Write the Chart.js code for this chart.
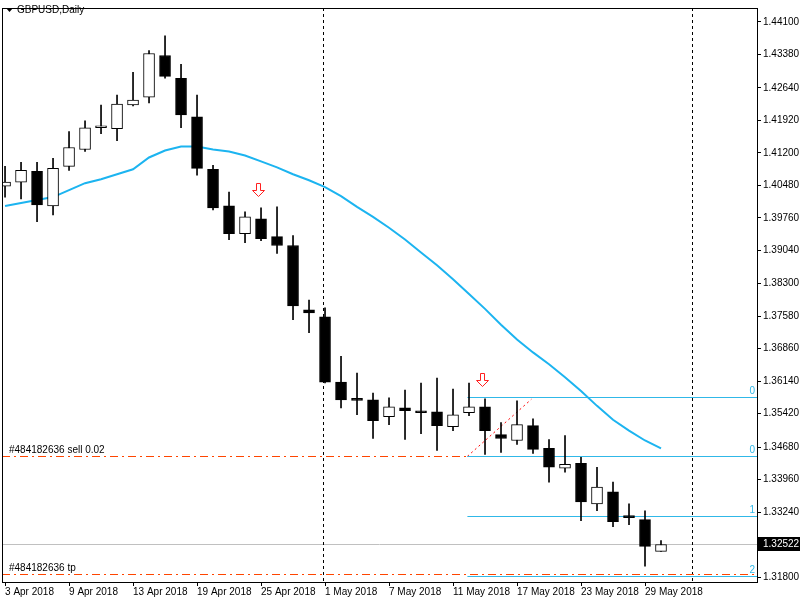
<!DOCTYPE html>
<html><head><meta charset="utf-8">
<script src="https://cdn.jsdelivr.net/npm/chart.js@4/dist/chart.umd.min.js"></script>
<style>html,body{margin:0;padding:0;background:#fff}</style>
</head><body>
<canvas id="c" width="800" height="600"></canvas>
<script>
// Daily GBPUSD candles, index 0 = 3 Apr 2018
const opens  = [1.40461,1.40548,1.40790,1.40022,1.40899,1.41272,1.41754,1.41732,1.42258,1.42434,1.43355,1.42850,1.41995,1.40833,1.40022,1.39408,1.39737,1.39342,1.39145,1.37720,1.37567,1.36119,1.35725,1.35725,1.35352,1.35549,1.35484,1.35462,1.35133,1.35440,1.35571,1.34957,1.34826,1.35155,1.34651,1.34212,1.34322,1.33423,1.33686,1.33160,1.33072,1.32370];
const highs  = [1.40899,1.40987,1.40987,1.41075,1.41667,1.41908,1.42258,1.42478,1.42982,1.43464,1.43793,1.43157,1.42478,1.40921,1.40329,1.39891,1.39978,1.40000,1.39364,1.37939,1.37764,1.36690,1.36317,1.35878,1.35769,1.35944,1.36098,1.36207,1.35966,1.36098,1.35747,1.35221,1.35703,1.35308,1.34848,1.34935,1.34453,1.34234,1.33905,1.33423,1.33269,1.32611];
const lows   = [1.40219,1.40176,1.39671,1.39825,1.40811,1.41228,1.41623,1.41469,1.42237,1.42302,1.42850,1.41754,1.40702,1.39934,1.39277,1.39211,1.39255,1.38970,1.37501,1.37216,1.36100,1.35549,1.35396,1.34870,1.35177,1.34848,1.34979,1.34607,1.35045,1.35374,1.34519,1.34563,1.34738,1.34541,1.33905,1.34124,1.33050,1.33269,1.32918,1.32962,1.32041,1.32370];
const closes = [1.40548,1.40811,1.40044,1.40855,1.41316,1.41754,1.41776,1.42280,1.42368,1.43399,1.42894,1.42039,1.40855,1.39978,1.39408,1.39781,1.39299,1.39145,1.37808,1.37654,1.36119,1.35725,1.35715,1.35264,1.35571,1.35484,1.35440,1.35155,1.35396,1.35571,1.35045,1.34870,1.35177,1.34629,1.34234,1.34300,1.33467,1.33795,1.33028,1.33116,1.32480,1.32522];
const maValues = [1.40022,1.40088,1.40154,1.40219,1.40373,1.40526,1.40614,1.40724,1.40833,1.41096,1.41250,1.41338,1.41338,1.41272,1.41228,1.41140,1.41009,1.40877,1.40724,1.40592,1.40439,1.40241,1.40000,1.39781,1.39540,1.39277,1.38992,1.38707,1.38400,1.38071,1.37742,1.37391,1.37062,1.36777,1.36514,1.36229,1.35922,1.35593,1.35286,1.35045,1.34826,1.34651];
const dateTickIdx = [0,4,8,12,16,20,24,28,32,36,40];
const dateTickLabels = ['3 Apr 2018','9 Apr 2018','13 Apr 2018','19 Apr 2018','25 Apr 2018','1 May 2018','7 May 2018','11 May 2018','17 May 2018','23 May 2018','29 May 2018'];
const priceTicks = [1.44100,1.43380,1.42640,1.41920,1.41200,1.40480,1.39760,1.39040,1.38300,1.37580,1.36860,1.36140,1.35420,1.34680,1.33960,1.33240,1.31800];
const bidPrice = 1.32522;
const fiboLevels = [1.35791,1.34475,1.33160,1.31822];
const fiboLabels = ['0','0','1','2'];
const fiboStart = 28.9;
const sellPrice = 1.34475, tpPrice = 1.31866;
const periodSeps = [19.9,42.94];
const arrows = [[15.8,1.4053],[29.8,1.3632]];
const trendLine = [[28.9,1.34475],[32.9,1.35740]];

const idx = opens.map((_,i)=>i);
const FONT = '"Liberation Sans", Arial, sans-serif';

const overlay = {
  id:'overlay',
  beforeDatasetsDraw(ch){
    const {ctx, chartArea:a, scales:{x,y}} = ch;
    ctx.save();
    ctx.lineWidth=1;
    ctx.strokeStyle='#c0c0c0';
    let py=Math.round(y.getPixelForValue(bidPrice))+0.5;
    ctx.beginPath();ctx.moveTo(a.left,py);ctx.lineTo(a.right,py);ctx.stroke();
    ctx.strokeStyle='#000';ctx.setLineDash([3,3]);
    periodSeps.forEach(v=>{const px=Math.round(x.getPixelForValue(v))+0.5;ctx.beginPath();ctx.moveTo(px,a.top);ctx.lineTo(px,a.bottom);ctx.stroke();});
    ctx.strokeStyle='#ff4500';ctx.setLineDash([8,4,2,4]);
    const fx=x.getPixelForValue(fiboStart);
    let sy=Math.round(y.getPixelForValue(sellPrice))+0.5;
    ctx.beginPath();ctx.moveTo(a.left,sy);ctx.lineTo(fx,sy);ctx.stroke();
    let ty=Math.round(y.getPixelForValue(tpPrice))+0.5;
    ctx.beginPath();ctx.moveTo(a.left,ty);ctx.lineTo(a.right,ty);ctx.stroke();
    ctx.strokeStyle='#ff0000';ctx.setLineDash([2,3]);
    ctx.beginPath();ctx.moveTo(x.getPixelForValue(trendLine[0][0]),y.getPixelForValue(trendLine[0][1]));
    ctx.lineTo(x.getPixelForValue(trendLine[1][0]),y.getPixelForValue(trendLine[1][1]));ctx.stroke();
    ctx.setLineDash([]);
    ctx.strokeStyle='#30b8e8';ctx.fillStyle='#30b8e8';ctx.font='10px '+FONT;ctx.textAlign='right';ctx.textBaseline='bottom';
    fiboLevels.forEach((v,i)=>{const yy=Math.round(y.getPixelForValue(v))+0.5;ctx.beginPath();ctx.moveTo(fx,yy);ctx.lineTo(a.right,yy);ctx.stroke();ctx.fillText(fiboLabels[i],a.right-2,yy-1);});
    ctx.fillStyle='#000';ctx.textAlign='left';
    ctx.fillText('#484182636 sell 0.02',9,sy-1);
    ctx.fillText('#484182636 tp',9,ty-1);
    ctx.restore();
  },
  afterDraw(ch){
    const {ctx, chartArea:a, scales:{x,y}} = ch;
    ctx.save();
    ctx.strokeStyle='#000';ctx.lineWidth=1;
    ctx.strokeRect(a.left+0.5,a.top+0.5,a.right-a.left,a.bottom-a.top);
    ctx.strokeStyle='#ff2020';ctx.fillStyle='#fff';
    arrows.forEach(([xv,yv])=>{
      const cx=Math.round(x.getPixelForValue(xv))+0.5, t=Math.round(y.getPixelForValue(yv))+0.5;
      ctx.beginPath();ctx.moveTo(cx-2,t);ctx.lineTo(cx+2,t);ctx.lineTo(cx+2,t+7);ctx.lineTo(cx+6,t+7);ctx.lineTo(cx,t+13);ctx.lineTo(cx-6,t+7);ctx.lineTo(cx-2,t+7);ctx.closePath();ctx.fill();ctx.stroke();
    });
    ctx.fillStyle='#000';
    ctx.beginPath();ctx.moveTo(6,8);ctx.lineTo(13,8);ctx.lineTo(9.5,12);ctx.closePath();ctx.fill();
    ctx.font='10px '+FONT;ctx.textBaseline='middle';ctx.textAlign='left';
    ctx.fillText('GBPUSD,Daily',17,10);
    const py=Math.round(y.getPixelForValue(bidPrice));
    ctx.fillRect(a.right+1,py-7,800-a.right-1,14);
    ctx.fillStyle='#fff';ctx.fillText(bidPrice.toFixed(5),a.right+6,py+0.5);
    ctx.restore();
  }
};

new Chart(document.getElementById('c'),{
  data:{datasets:[
    {type:'line',data:idx.map(i=>({x:i,y:maValues[i]})),borderColor:'#1cb4f0',borderWidth:2,pointRadius:0,tension:0,order:3},
    {type:'bar',data:idx.map(i=>({x:i,y:[lows[i],highs[i]]})),backgroundColor:'#000',barThickness:1,grouped:false,order:2},
    {type:'bar',data:idx.map(i=>({x:i,y:[Math.min(opens[i],closes[i]),Math.max(opens[i],closes[i])]})),
      backgroundColor:idx.map(i=>closes[i]>opens[i]?'#fff':'#000'),borderColor:'#000',borderWidth:1,borderSkipped:false,
      barThickness:11,minBarLength:2,grouped:false,order:1}
  ]},
  options:{
    responsive:false,animation:false,devicePixelRatio:1,
    layout:{padding:{left:2,top:2,right:0,bottom:0}},
    plugins:{legend:{display:false},tooltip:{enabled:false}},
    scales:{
      x:{type:'linear',offset:false,min:-0.19,max:47,
        grid:{drawOnChartArea:false,tickLength:4,color:'#000',offset:false},border:{color:'#000'},
        afterBuildTicks:s=>{s.ticks=dateTickIdx.map(v=>({value:v}));},
        afterFit:s=>{s.height=18;},
        ticks:{align:'start',maxRotation:0,autoSkip:false,padding:0,color:'#000',font:{family:FONT,size:10},
          callback:v=>dateTickLabels[dateTickIdx.indexOf(v)]??''}},
      y:{position:'right',min:1.31691,max:1.44407,
        grid:{drawOnChartArea:false,tickLength:4,color:'#000'},border:{color:'#000'},
        afterBuildTicks:s=>{s.ticks=priceTicks.map(v=>({value:v}));},
        afterFit:s=>{s.width=43;},
        ticks:{padding:2,color:'#000',font:{family:FONT,size:10},callback:v=>v.toFixed(5)}}
    }
  },
  plugins:[overlay]
});
</script>
</body></html>
